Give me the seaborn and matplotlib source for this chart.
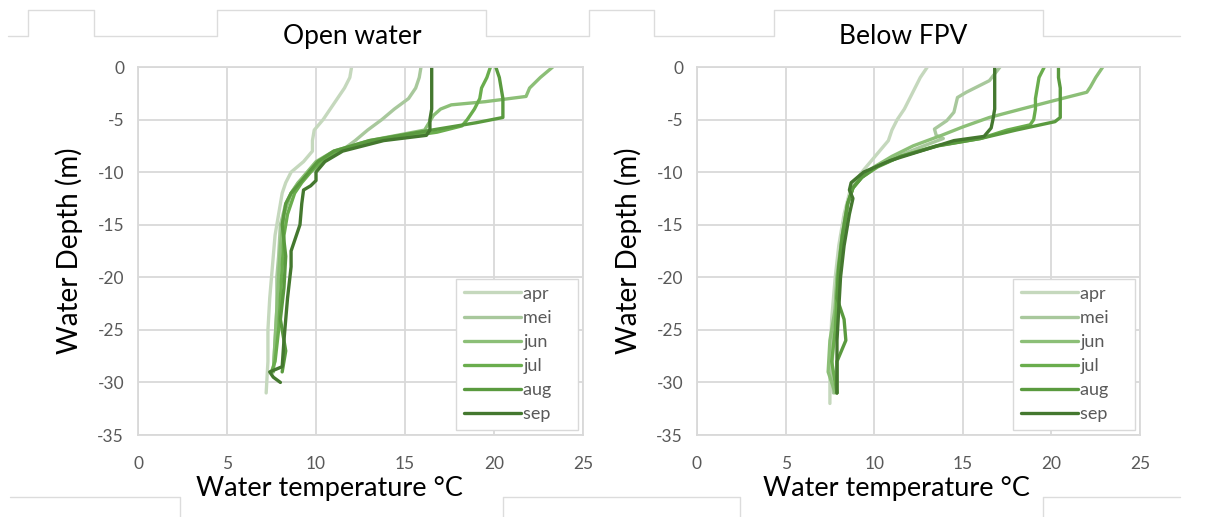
import pandas as pd
import matplotlib.pyplot as plt
import seaborn as sns
from matplotlib.lines import Line2D

months = ['apr', 'mei', 'jun', 'jul', 'aug', 'sep']
colors = ['#c5d8bd', '#a8c89c', '#8cbf77', '#6aad4d', '#5a9a3f', '#44782f']

# Open water profiles (temperature in C, depth in m)
ow_depth = {
    'apr': [0, -1, -2, -3, -4, -5, -6, -7, -8, -9, -10, -11, -12, -14, -16, -18, -20, -22, -25, -28, -31],
    'mei': [0, -1, -2, -3, -4, -5, -6, -7, -8, -9, -10, -11, -12, -13, -15, -18, -20, -23, -26, -29],
    'jun': [0, -1, -2, -2.8, -3.3, -3.6, -4, -4.6, -6, -7, -8, -9, -10, -11, -12, -14, -17, -20, -23, -26, -29],
    'jul': [0, -1, -2, -3, -4, -5, -5.6, -6.2, -7, -8, -9, -10, -11, -12, -14, -16, -19, -22, -25, -28, -29],
    'aug': [0, -1, -2, -3, -4, -4.8, -5.3, -6, -7, -8, -9, -10, -11, -12, -13, -15, -18, -21, -24, -27, -29],
    'sep': [0, -1, -2, -3, -4, -5, -6, -6.5, -7, -8, -9, -10, -10.8, -11.3, -11.7, -13, -15, -17.5, -19, -22, -26, -28.5, -29, -29.5, -30],
}
ow_temp = {
    'apr': [12.0, 11.9, 11.6, 11.2, 10.8, 10.4, 9.9, 9.8, 9.8, 9.3, 8.6, 8.3, 8.1, 7.9, 7.7, 7.6, 7.5, 7.4, 7.3, 7.3, 7.2],
    'mei': [15.9, 15.8, 15.6, 15.2, 14.4, 13.7, 12.9, 12.2, 11.4, 10.4, 9.6, 9.0, 8.6, 8.3, 8.0, 7.9, 7.8, 7.8, 7.7, 7.6],
    'jun': [23.3, 22.6, 22.0, 21.8, 19.5, 17.6, 17.0, 16.6, 16.1, 13.0, 11.0, 10.0, 9.5, 9.0, 8.6, 8.2, 8.0, 7.9, 7.8, 7.7, 7.6],
    'jul': [19.8, 19.6, 19.3, 19.2, 18.9, 18.5, 18.2, 16.8, 13.5, 11.2, 10.3, 9.7, 9.2, 8.8, 8.4, 8.2, 8.1, 8.0, 7.9, 7.7, 7.5],
    'aug': [20.1, 20.3, 20.4, 20.5, 20.5, 20.5, 19.0, 16.5, 13.0, 11.0, 10.1, 9.6, 9.1, 8.6, 8.3, 8.1, 8.3, 8.2, 8.0, 8.3, 8.1],
    'sep': [16.5, 16.5, 16.5, 16.5, 16.5, 16.4, 16.4, 16.2, 13.8, 11.5, 10.5, 10.0, 10.0, 9.7, 9.3, 9.2, 9.1, 8.6, 8.6, 8.4, 8.2, 8.1, 7.4, 7.6, 8.0],
}

# Below FPV profiles
fpv_depth = {
    'apr': [0, -1, -2, -3, -4, -5, -6, -7, -8, -9, -10, -11, -12, -14, -17, -20, -24, -28, -32],
    'mei': [0, -1.3, -2.4, -2.9, -4.3, -5.1, -5.9, -6.5, -6.8, -7.5, -8.5, -9.5, -10.5, -11.5, -13, -16, -20, -23, -26, -29, -31],
    'jun': [0, -1, -1.9, -2.4, -3, -4, -4.8, -5.7, -6.5, -7.5, -8.5, -9.5, -10.5, -11.5, -13, -16, -20, -23, -26, -29, -31],
    'jul': [0, -1, -2, -3, -4, -5, -5.5, -6, -6.8, -7.5, -8.5, -9.5, -10.5, -11.5, -13, -16, -19, -22, -25, -28, -31],
    'aug': [0, -1, -2, -3, -4, -4.8, -5.2, -6, -6.8, -7.5, -8.5, -9.5, -10.5, -11.5, -13, -16, -19, -22, -24, -26, -28, -31],
    'sep': [0, -1, -2, -3, -4, -5, -5.8, -6.6, -7, -7.9, -8.9, -10, -11, -11.7, -12.5, -14, -17, -20, -23, -26, -29, -31],
}
fpv_temp = {
    'apr': [13.0, 12.6, 12.3, 12.0, 11.7, 11.3, 11.0, 10.8, 10.3, 9.8, 9.3, 8.9, 8.6, 8.3, 8.0, 7.8, 7.6, 7.5, 7.5],
    'mei': [17.1, 16.5, 15.2, 14.7, 14.5, 14.1, 13.4, 13.5, 13.9, 12.8, 11.3, 10.1, 9.3, 8.8, 8.5, 8.2, 7.9, 7.8, 7.7, 7.6, 7.7],
    'jun': [22.9, 22.5, 22.2, 22.0, 20.6, 18.3, 16.5, 15.0, 13.8, 12.2, 11.0, 10.0, 9.2, 8.8, 8.5, 8.2, 7.9, 7.8, 7.5, 7.4, 7.8],
    'jul': [19.6, 19.3, 19.2, 19.1, 19.1, 19.0, 18.8, 17.5, 16.0, 13.5, 11.5, 10.2, 9.3, 8.8, 8.5, 8.3, 8.0, 7.9, 7.8, 7.6, 7.9],
    'aug': [20.4, 20.4, 20.5, 20.5, 20.5, 20.5, 20.2, 18.0, 16.0, 13.6, 11.5, 10.1, 9.3, 8.8, 8.5, 8.2, 8.0, 7.9, 8.3, 8.4, 7.9, 7.9],
    'sep': [16.8, 16.8, 16.8, 16.8, 16.8, 16.7, 16.6, 16.2, 14.5, 12.8, 10.9, 9.4, 8.7, 8.6, 8.8, 8.6, 8.3, 8.1, 8.0, 7.9, 7.9, 7.9],
}


def to_long(depths, temps):
    rows = []
    for m in months:
        for d, t in zip(depths[m], temps[m]):
            rows.append({'month': m, 'temp': t, 'depth': d})
    return pd.DataFrame(rows)


sns.set_style('white')
plt.rcParams['font.family'] = ['Lato', 'DejaVu Sans']
plt.rcParams['axes.unicode_minus'] = False

W, H = 1206, 517
fig = plt.figure(figsize=(W / 100, H / 100), dpi=100)
ax1 = fig.add_axes([138 / W, 82 / H, 445 / W, 368 / H])
ax2 = fig.add_axes([697 / W, 82 / H, 443 / W, 368 / H])

# faint edges of the pasted chart boxes (pixel coords, top-left origin)
edges = [
    [(8, 36), (28, 36), (28, 10), (94, 10), (94, 36), (217, 36), (217, 10), (486, 10), (486, 36), (589, 36), (589, 10), (654, 10),
     (654, 36), (774, 36), (774, 10), (1043, 10), (1043, 36), (1180, 36)],
    [(10, 497), (180, 497), (180, 517)],
    [(503, 517), (503, 497), (740, 497), (740, 517)],
    [(1043, 517), (1043, 497), (1180, 497)],
]
for e in edges:
    fig.add_artist(Line2D([p[0] / W for p in e], [1 - p[1] / H for p in e],
                          color='#dcdcdc', linewidth=1.0))

panels = [(ax1, to_long(ow_depth, ow_temp), 'Open water', 0.481, 0.43),
          (ax2, to_long(fpv_depth, fpv_temp), 'Below FPV', 0.465, 0.45)]

grid = '#d9d9d9'
for ax, df, title, tx, lx in panels:
    sns.lineplot(data=df, x='temp', y='depth', hue='month', palette=colors,
                 sort=False, estimator=None, linewidth=2.4, ax=ax)
    ax.set_xlim(0, 25)
    ax.set_ylim(-35, 0)
    ax.set_xticks(range(0, 26, 5))
    ax.set_yticks(range(-35, 1, 5))
    ax.grid(True, color=grid, linewidth=1.3)
    ax.set_axisbelow(True)
    for s in ax.spines.values():
        s.set_color(grid)
        s.set_linewidth(1.3)
    ax.tick_params(length=0, labelsize=12.5, labelcolor='#595959')
    ax.tick_params(axis='x', pad=15)
    ax.tick_params(axis='y', pad=10)
    ax.set_title(title, fontsize=19, x=tx, y=1.04, color='black')
    ax.set_ylabel('Water Depth (m)', fontsize=20, labelpad=10, color='black')
    ax.set_xlabel('')
    ax.text(lx, -0.145, 'Water temperature °C', transform=ax.transAxes,
            ha='center', va='center', fontsize=19.5, color='black')
    h, l = ax.get_legend_handles_labels()
    ax.legend(h, [x + '    ' for x in l], loc='lower right', fontsize=13, frameon=True, fancybox=False,
              edgecolor=grid, framealpha=1, handlelength=3.2, handletextpad=0.1,
              labelspacing=0.45, borderaxespad=0.3, labelcolor='#595959',
              borderpad=0.4)

fig.savefig('out.png', dpi=100, facecolor='white')
